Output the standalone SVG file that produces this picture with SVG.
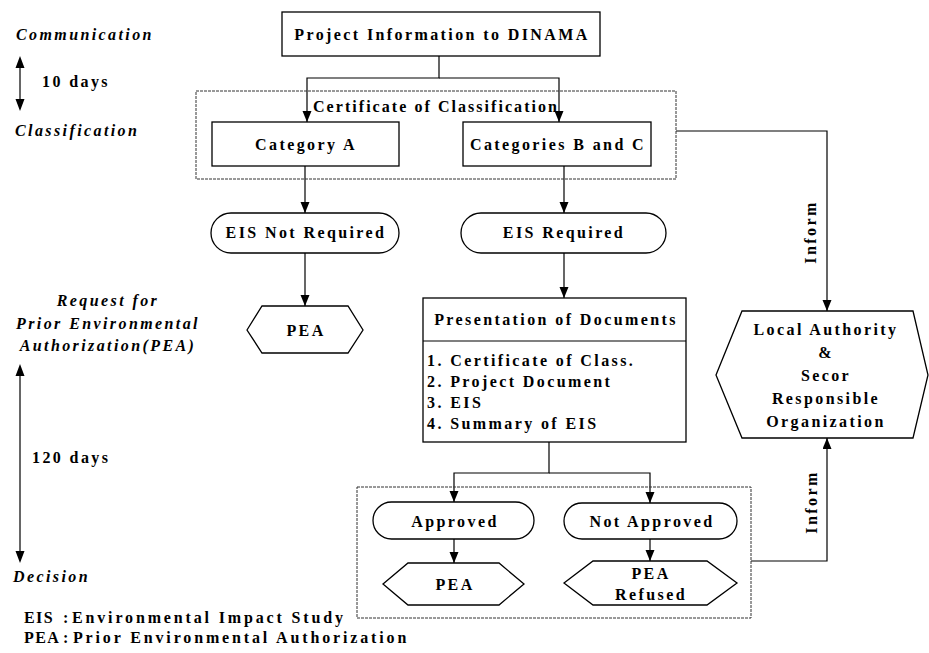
<svg xmlns="http://www.w3.org/2000/svg" width="929" height="653" viewBox="0 0 929 653">
<style>
text{font-family:"Liberation Serif","Times New Roman",serif;font-weight:bold;font-size:16px;letter-spacing:2.4px;fill:#000}
.c{text-anchor:middle}
.it{font-style:italic}
.lg{letter-spacing:2.85px}
.ab{letter-spacing:1.4px}
.box{fill:#fff;stroke:#000;stroke-width:1.3}
.grp{fill:none;stroke:#333;stroke-width:1;stroke-dasharray:3 1}
.ln{fill:none;stroke:#000;stroke-width:1.2}
.gl{fill:none;stroke:#666;stroke-width:2}
</style>
<defs>
<marker id="ah" markerUnits="userSpaceOnUse" markerWidth="11" markerHeight="10" refX="11" refY="4.5" orient="auto">
<path d="M0,0 L11,4.5 L0,9 z" fill="#000"/>
</marker>
</defs>

<g id="timeline">
<text class="it" x="16" y="40">Communication</text>
<text x="42" y="87">10 days</text>
<text class="it" x="15" y="136">Classification</text>
<text class="it c" x="108" y="306">Request for</text>
<text class="it c" x="108" y="329">Prior Environmental</text>
<text class="it c" x="108" y="351">Authorization(PEA)</text>
<text x="32" y="463">120 days</text>
<text class="it" x="13" y="582">Decision</text>
<path class="gl" d="M20,66 V101" />
<path d="M15.5,68 L20,56 L24.5,68 z M15.5,99 L20,111 L24.5,99 z" fill="#000"/>
<path class="gl" d="M20,374 V553" />
<path d="M15.5,376 L20,364 L24.5,376 z M15.5,551 L20,563 L24.5,551 z" fill="#000"/>
</g>

<g id="legend">
<text class="lg" x="24" y="623"><tspan class="ab">EIS</tspan><tspan x="63">:</tspan><tspan x="72">Environmental Impact Study</tspan></text>
<text class="lg" x="24" y="643"><tspan class="ab">PEA</tspan><tspan x="63">:</tspan><tspan x="73">Prior Environmental Authorization</tspan></text>
</g>

<g id="connectors">
<path class="ln" d="M439,56 V78 H307 V122" marker-end="url(#ah)"/>
<path class="ln" d="M439,78 H559 V122" marker-end="url(#ah)"/>
<path class="ln" d="M305,166 V213" marker-end="url(#ah)"/>
<path class="ln" d="M564,166 V213" marker-end="url(#ah)"/>
<path class="ln" d="M305,253 V306" marker-end="url(#ah)"/>
<path class="ln" d="M564,253 V298" marker-end="url(#ah)"/>
<path class="ln" d="M676,131 H827 V311" marker-end="url(#ah)"/>
<path class="ln" d="M549,442 V473 H454 V502" marker-end="url(#ah)"/>
<path class="ln" d="M549,473 H650 V503" marker-end="url(#ah)"/>
<path class="ln" d="M454,539 V563" marker-end="url(#ah)"/>
<path class="ln" d="M650,539 V561" marker-end="url(#ah)"/>
<path class="ln" d="M751,561 H827 V438" marker-end="url(#ah)"/>
<text class="c" transform="translate(816,232) rotate(-90)">Inform</text>
<text class="c" transform="translate(817,502) rotate(-90)">Inform</text>
</g>

<g id="project">
<rect class="box" x="282" y="12" width="318" height="44"/>
<text class="c" x="442" y="40">Project Information to DINAMA</text>
</g>

<g id="certificate">
<rect class="grp" x="196" y="91" width="480" height="88"/>
<text class="c" x="436" y="112" style="letter-spacing:2.05px">Certificate of Classification</text>
</g>

<g id="categoryA">
<rect class="box" x="212" y="122" width="187" height="44"/>
<text class="c" x="306" y="150">Category A</text>
</g>

<g id="categoriesBC">
<rect class="box" x="463" y="122" width="188" height="44"/>
<text class="c" x="558" y="150">Categories B and C</text>
</g>

<g id="eisNotRequired">
<rect class="box" x="211" y="213" width="188" height="40" rx="20"/>
<text class="c" x="306" y="238">EIS Not Required</text>
</g>

<g id="eisRequired">
<rect class="box" x="461" y="213" width="205" height="40" rx="20"/>
<text class="c" x="564" y="238">EIS Required</text>
</g>

<g id="peaA">
<polygon class="box" points="247,330 262,306 348,306 363,330 348,353 262,353"/>
<text class="c" x="306" y="336">PEA</text>
</g>

<g id="documents">
<rect class="box" x="423" y="298" width="263" height="144"/>
<line class="ln" x1="423" y1="341" x2="686" y2="341"/>
<text class="c" x="556" y="325">Presentation of Documents</text>
<text x="427" y="366">1. Certificate of Class.</text>
<text x="427" y="387">2. Project Document</text>
<text x="427" y="408">3. EIS</text>
<text x="427" y="429">4. Summary of EIS</text>
</g>

<g id="localAuthority">
<polygon class="box" points="716,375 742,311 913,311 928,375 913,438 742,438"/>
<text class="c" x="826" y="335">Local Authority</text>
<text class="c" x="826" y="358">&amp;</text>
<text class="c" x="826" y="381">Secor</text>
<text class="c" x="826" y="404">Responsible</text>
<text class="c" x="826" y="427">Organization</text>
</g>

<g id="decision">
<rect class="grp" x="357" y="487" width="394" height="131"/>
</g>

<g id="approved">
<rect class="box" x="373" y="502" width="161" height="37" rx="18.5"/>
<text class="c" x="455" y="527">Approved</text>
</g>

<g id="notApproved">
<rect class="box" x="564" y="503" width="173" height="36" rx="18"/>
<text class="c" x="652" y="527">Not Approved</text>
</g>

<g id="peaApproved">
<polygon class="box" points="383,584 408,563 499,563 524,584 499,605 408,605"/>
<text class="c" x="455" y="590">PEA</text>
</g>

<g id="peaRefused">
<polygon class="box" points="564,583 593,561 707,561 737,583 707,605 593,605"/>
<text class="c" x="651" y="579">PEA</text>
<text class="c" x="651" y="600">Refused</text>
</g>
</svg>
